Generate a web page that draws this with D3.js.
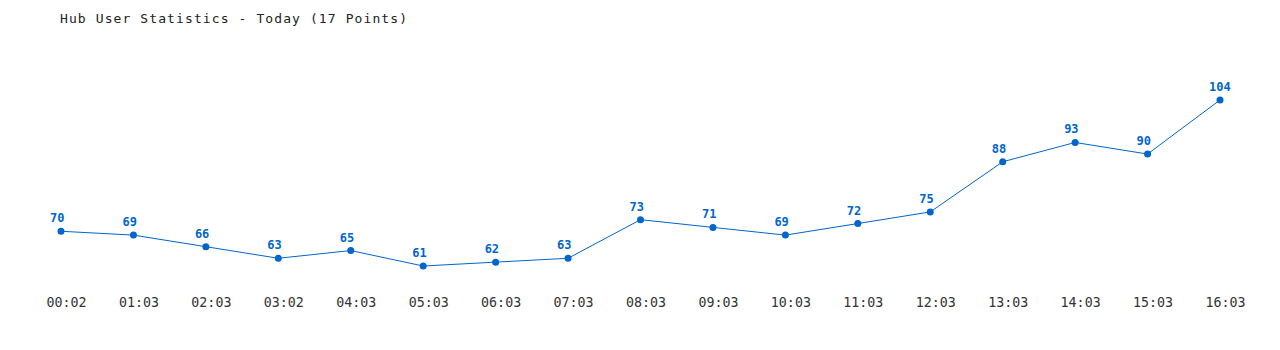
<!DOCTYPE html>
<html><head><meta charset="utf-8">
<script src="https://cdn.jsdelivr.net/npm/d3@7"></script>
<style>body{margin:0;background:#fff}</style>
</head><body><svg id="c" width="1280" height="350"></svg>
<script>
const times = ["00:02","01:03","02:03","03:02","04:03","05:03","06:03","07:03","08:03","09:03","10:03","11:03","12:03","13:03","14:03","15:03","16:03"];
const users = [70,69,66,63,65,61,62,63,73,71,69,72,75,88,93,90,104];
const title = "Hub User Statistics - Today (17 Points)";

const svg = d3.select("#c");
const font = "'DejaVu Sans Mono', 'Liberation Mono', monospace";
const color = "#0066cc";
const x = d3.scalePoint().domain(times).range([61, 1220]);
const y = d3.scaleLinear().domain([61, 104]).range([266, 100]);

svg.append("text").attr("x", 60).attr("y", 23).attr("font-family", font).attr("font-size", 13)
  .attr("letter-spacing", 1.1).attr("fill", "#222").text(title);

const axis = d3.axisBottom(x).tickSize(0).tickPadding(0);
const g = svg.append("g").attr("transform", "translate(5,298)").call(axis);
g.select(".domain").remove();
g.selectAll("text").attr("font-family", font).attr("font-size", 13.3).attr("fill", "#333").attr("dy", "0.71em");

const data = times.map((t, i) => ({t, v: users[i]}));
svg.append("path").datum(data).attr("fill", "none").attr("stroke", color).attr("stroke-width", 1)
  .attr("d", d3.line().x(d => x(d.t)).y(d => y(d.v)));
svg.selectAll("circle.pt").data(data).join("circle").attr("class", "pt")
  .attr("cx", d => x(d.t)).attr("cy", d => y(d.v)).attr("r", 3.5).attr("fill", color);
svg.selectAll("text.lbl").data(data).join("text").attr("class", "lbl")
  .attr("x", d => x(d.t) - 11).attr("y", d => y(d.v) - 9).attr("text-anchor", "start")
  .attr("font-family", font).attr("font-size", 12).attr("font-weight", "bold").attr("fill", color)
  .text(d => d.v);
</script></body></html>
